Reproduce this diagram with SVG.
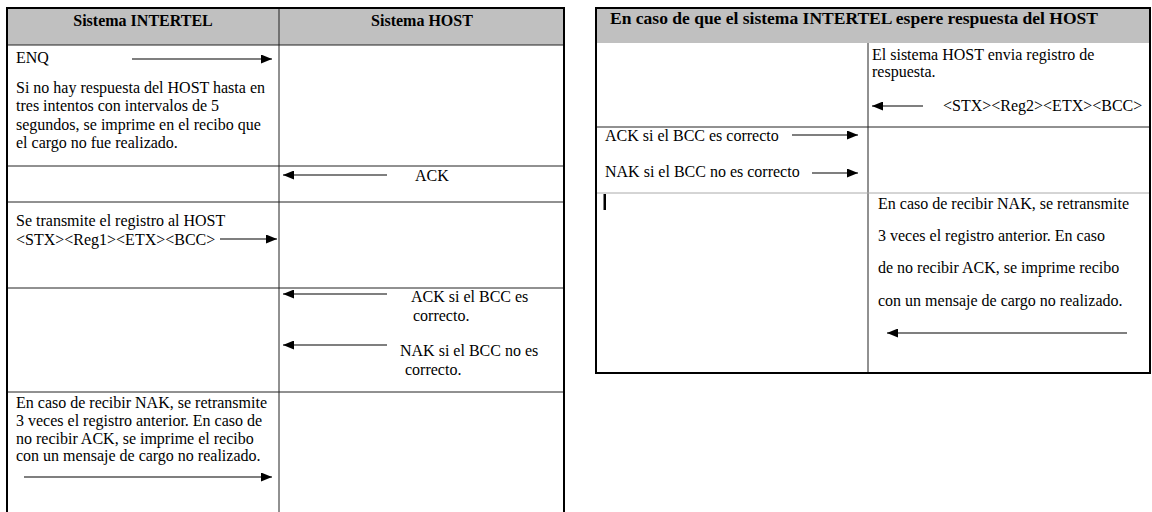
<svg xmlns="http://www.w3.org/2000/svg" width="1152" height="512" viewBox="0 0 1152 512">
<style>
text{font-family:"Liberation Serif","Times New Roman",serif;font-size:16px;fill:#000}
.h{font-weight:bold}
.hdr{fill:#c0c0c0}
.outer{fill:none;stroke:#000;stroke-width:2}
.in{stroke:#222;stroke-width:1}
.lt{stroke:#aaa;stroke-width:1}
.arr{stroke:#000;stroke-width:1.2;fill:none;marker-end:url(#ah)}
</style>
<defs>
<marker id="ah" viewBox="0 0 11 9" refX="11" refY="4.5" markerWidth="11" markerHeight="9" markerUnits="userSpaceOnUse" orient="auto">
<path d="M0,0 L11,4.5 L0,9 Z" fill="#000"/>
</marker>
</defs>
<rect width="1152" height="512" fill="#fff"/>

<g id="table-left">
<rect class="hdr" x="7" y="8" width="557" height="37"/>
<line class="in" x1="7" y1="45" x2="564" y2="45"/>
<line class="in" x1="279" y1="8" x2="279" y2="512"/>
<line class="in" x1="7" y1="166" x2="564" y2="166"/>
<line class="in" x1="7" y1="202" x2="564" y2="202" stroke="#666"/>
<line class="in" x1="7" y1="288" x2="564" y2="288" stroke-width="1.5"/>
<line class="in" x1="7" y1="392" x2="564" y2="392" stroke-width="1.5"/>
<path class="outer" d="M7,512 V8 H564 V512"/>
</g>
<g id="hdr-intertel"><text class="h" x="143" y="26" text-anchor="middle">Sistema INTERTEL</text></g>
<g id="hdr-host"><text class="h" x="422" y="26" text-anchor="middle">Sistema HOST</text></g>
<g id="cell-enq">
<text x="16" y="63">ENQ</text>
<text x="16" y="93">Si no hay respuesta del HOST  hasta en</text>
<text x="16" y="111">tres intentos con intervalos de 5</text>
<text x="16" y="130">segundos, se imprime en el recibo que</text>
<text x="16" y="148">el cargo no fue realizado.</text>
</g>
<g id="cell-ack"><text x="415" y="181">ACK</text></g>
<g id="cell-reg1">
<text x="16" y="226">Se transmite el registro al HOST</text>
<text x="16" y="245">&lt;STX&gt;&lt;Reg1&gt;&lt;ETX&gt;&lt;BCC&gt;</text>
</g>
<g id="cell-acknak">
<text x="411" y="302">ACK si el BCC es</text>
<text x="413" y="321">correcto.</text>
<text x="400" y="356">NAK si el BCC no es</text>
<text x="405" y="375">correcto.</text>
</g>
<g id="cell-retrans-left">
<text x="16" y="408">En caso de recibir NAK, se retransmite</text>
<text x="16" y="426">3 veces el registro anterior. En caso de</text>
<text x="16" y="444">no recibir ACK, se imprime el recibo</text>
<text x="16" y="461">con un mensaje de cargo no realizado.</text>
</g>

<g id="table-right">
<rect class="hdr" x="596" y="8" width="554" height="35"/>
<line class="in" x1="868" y1="43" x2="868" y2="373"/>
<line class="in" x1="596" y1="127" x2="1150" y2="127" stroke="#555"/>
<line class="lt" x1="596" y1="193" x2="1150" y2="193"/>
<rect class="outer" x="596" y="8" width="554" height="365"/>
<rect x="603.5" y="194" width="2.5" height="16" fill="#000"/>
</g>
<g id="hdr-right"><text class="h" x="610" y="24" textLength="488" lengthAdjust="spacingAndGlyphs">En caso de que el sistema INTERTEL espere respuesta del HOST</text></g>
<g id="cell-reg2">
<text x="872" y="60">El sistema HOST  envia registro de</text>
<text x="872" y="77">respuesta.</text>
<text x="943" y="111">&lt;STX&gt;&lt;Reg2&gt;&lt;ETX&gt;&lt;BCC&gt;</text>
</g>
<g id="cell-acknak-right">
<text x="605" y="141">ACK si el BCC es correcto</text>
<text x="605" y="177">NAK si el BCC no es correcto</text>
</g>
<g id="cell-retrans-right">
<text x="878" y="209">En caso de recibir NAK, se retransmite</text>
<text x="878" y="241">3 veces el registro anterior. En caso</text>
<text x="878" y="273">de no recibir ACK, se imprime recibo</text>
<text x="878" y="306">con un mensaje de cargo no realizado.</text>
</g>

<g id="connectors">
<line class="arr" x1="132" y1="59" x2="272" y2="59"/>
<line class="arr" x1="387" y1="175" x2="283" y2="175"/>
<line class="arr" x1="220" y1="239" x2="277" y2="239"/>
<line class="arr" x1="387" y1="294" x2="283" y2="294"/>
<line class="arr" x1="387" y1="345" x2="283" y2="345"/>
<line class="arr" x1="24" y1="477" x2="272" y2="477"/>
<line class="arr" x1="923" y1="106" x2="872" y2="106"/>
<line class="arr" x1="792" y1="135" x2="858" y2="135"/>
<line class="arr" x1="812" y1="173" x2="858" y2="173"/>
<line class="arr" x1="1127" y1="333" x2="887" y2="333"/>
</g>
</svg>
